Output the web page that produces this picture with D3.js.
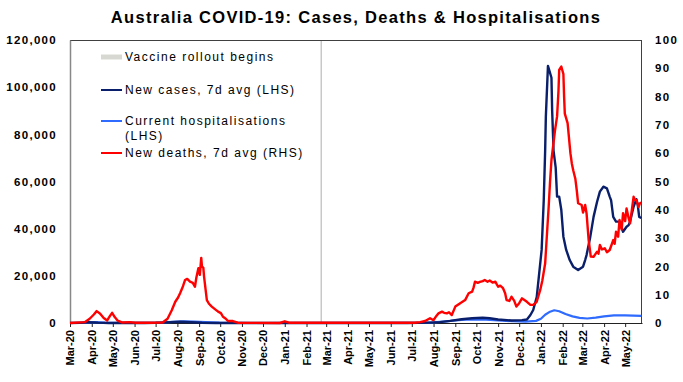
<!DOCTYPE html>
<html>
<head>
<meta charset="utf-8">
<script src="https://cdn.jsdelivr.net/npm/d3@7"></script>
<style>
  html, body { margin: 0; padding: 0; background: #fff; }
  svg { display: block; }
</style>
</head>
<body>
<svg id="chart" width="683" height="382"></svg>
<script>
// ---------------- DATA ----------------
const titleText = "Australia COVID-19: Cases, Deaths & Hospitalisations";
const legendLabels = ["Vaccine rollout begins", "New cases, 7d avg (LHS)", ["Current hospitalisations", "(LHS)"], "New deaths, 7d avg (RHS)"];
const leftTicks = [0, 20000, 40000, 60000, 80000, 100000, 120000];
const rightTicks = [0, 10, 20, 30, 40, 50, 60, 70, 80, 90, 100];
const xStart = "2020-03-01";
const xEnd = "2022-05-25";
const vaccineDate = "2021-02-22";

// New cases, 7d avg (LHS)
const casesData = [
  ["2020-03-01", 5], ["2020-03-15", 60], ["2020-03-28", 380], ["2020-04-10", 150], ["2020-04-25", 20],
  ["2020-05-15", 15], ["2020-06-15", 20], ["2020-07-01", 80], ["2020-07-15", 250], ["2020-08-05", 520],
  ["2020-08-20", 300], ["2020-09-05", 100], ["2020-09-25", 20], ["2020-10-15", 10], ["2020-11-15", 5],
  ["2020-12-25", 15], ["2021-01-10", 20], ["2021-02-01", 5], ["2021-06-01", 10], ["2021-06-25", 20],
  ["2021-07-10", 60], ["2021-07-25", 150], ["2021-08-10", 350], ["2021-08-25", 900], ["2021-09-10", 1600],
  ["2021-09-25", 2000], ["2021-10-10", 2200], ["2021-10-20", 2000], ["2021-11-01", 1500], ["2021-11-20", 1050],
  ["2021-12-05", 1200], ["2021-12-12", 1500], ["2021-12-17", 3400], ["2021-12-21", 5500], ["2021-12-26", 11000],
  ["2021-12-29", 19600], ["2022-01-02", 31000], ["2022-01-05", 52000], ["2022-01-07", 73000], ["2022-01-08", 87500],
  ["2022-01-11", 109000], ["2022-01-13", 107000], ["2022-01-16", 104000], ["2022-01-17", 90000], ["2022-01-19", 73000],
  ["2022-01-22", 66000], ["2022-01-24", 53600], ["2022-01-27", 53600], ["2022-01-30", 48000], ["2022-02-02", 36600],
  ["2022-02-06", 31000], ["2022-02-11", 26700], ["2022-02-16", 23900], ["2022-02-23", 22500], ["2022-03-02", 23900],
  ["2022-03-05", 26700], ["2022-03-07", 28800], ["2022-03-12", 36000], ["2022-03-17", 45000], ["2022-03-22", 51400],
  ["2022-03-26", 55700], ["2022-03-31", 57800], ["2022-04-05", 57100], ["2022-04-09", 53600], ["2022-04-11", 52000],
  ["2022-04-14", 45000], ["2022-04-18", 43000], ["2022-04-23", 43000], ["2022-04-28", 38700], ["2022-05-03", 40800],
  ["2022-05-06", 41500], ["2022-05-08", 43000], ["2022-05-13", 49300], ["2022-05-17", 52500], ["2022-05-19", 50000],
  ["2022-05-21", 45000], ["2022-05-24", 44500]
];

// Current hospitalisations (LHS)
const hospData = [
  ["2020-03-01", 0], ["2020-03-25", 200], ["2020-04-05", 350], ["2020-04-20", 150], ["2020-05-15", 40],
  ["2020-06-15", 20], ["2020-07-10", 150], ["2020-07-25", 450], ["2020-08-10", 650], ["2020-08-25", 600],
  ["2020-09-10", 350], ["2020-09-30", 120], ["2020-10-20", 30], ["2020-11-15", 10], ["2021-06-15", 20],
  ["2021-07-15", 80], ["2021-08-01", 250], ["2021-08-15", 600], ["2021-09-01", 1100], ["2021-09-15", 1450],
  ["2021-10-01", 1550], ["2021-10-15", 1450], ["2021-11-01", 1100], ["2021-11-20", 800], ["2021-12-10", 600],
  ["2021-12-25", 900], ["2022-01-01", 1800], ["2022-01-07", 3500], ["2022-01-14", 4800], ["2022-01-20", 5400],
  ["2022-01-27", 5000], ["2022-02-05", 3800], ["2022-02-15", 2800], ["2022-02-25", 2200], ["2022-03-08", 1900],
  ["2022-03-20", 2300], ["2022-04-01", 2800], ["2022-04-15", 3200], ["2022-05-01", 3200], ["2022-05-24", 3000]
];

// New deaths, 7d avg (RHS)
const deathsData = [
  ["2020-03-01", 0], ["2020-03-22", 0.3], ["2020-03-29", 1.5], ["2020-04-04", 3], ["2020-04-08", 4.2],
  ["2020-04-13", 3.3], ["2020-04-18", 1.8], ["2020-04-23", 0.9], ["2020-04-27", 2.5], ["2020-04-30", 3.6],
  ["2020-05-04", 2], ["2020-05-08", 0.8], ["2020-05-14", 0.2], ["2020-05-25", 0.3], ["2020-06-02", 0.1],
  ["2020-06-23", 0.1], ["2020-07-11", 0.2], ["2020-07-18", 1.5], ["2020-07-24", 4.5], ["2020-07-29", 7.5],
  ["2020-08-02", 9], ["2020-08-05", 10.6], ["2020-08-09", 13], ["2020-08-12", 15.2], ["2020-08-15", 15.6],
  ["2020-08-19", 14.6], ["2020-08-23", 14.2], ["2020-08-26", 12.8], ["2020-08-28", 16], ["2020-08-31", 19.4],
  ["2020-09-02", 17], ["2020-09-04", 23], ["2020-09-05", 20], ["2020-09-07", 19.5], ["2020-09-08", 16.4],
  ["2020-09-12", 8.1], ["2020-09-15", 6.8], ["2020-09-19", 5.8], ["2020-09-23", 5], ["2020-09-28", 4],
  ["2020-10-02", 3.5], ["2020-10-05", 2.2], ["2020-10-09", 1.5], ["2020-10-12", 0.7], ["2020-10-19", 0.7],
  ["2020-10-26", 0.1], ["2020-12-25", 0], ["2021-01-01", 0.6], ["2021-01-07", 0.1], ["2021-07-05", 0.1],
  ["2021-07-13", 0.3], ["2021-07-20", 0.7], ["2021-07-27", 1.7], ["2021-08-01", 1], ["2021-08-05", 2.5],
  ["2021-08-08", 3.4], ["2021-08-13", 4], ["2021-08-16", 3.6], ["2021-08-20", 3.4], ["2021-08-23", 3.8],
  ["2021-08-27", 2.8], ["2021-09-01", 5.8], ["2021-09-08", 7], ["2021-09-15", 8.1], ["2021-09-20", 10.5],
  ["2021-09-25", 11.1], ["2021-09-27", 12.5], ["2021-09-29", 14.6], ["2021-10-03", 14.2], ["2021-10-06", 14.5],
  ["2021-10-10", 14.8], ["2021-10-13", 15.2], ["2021-10-17", 14.6], ["2021-10-20", 15], ["2021-10-24", 14.3],
  ["2021-10-28", 14.6], ["2021-11-01", 12.8], ["2021-11-04", 13.2], ["2021-11-08", 12.3], ["2021-11-11", 10.5],
  ["2021-11-13", 8.1], ["2021-11-17", 7.8], ["2021-11-20", 9.3], ["2021-11-24", 7.8], ["2021-11-27", 5.8],
  ["2021-12-01", 7], ["2021-12-05", 8.7], ["2021-12-08", 8.2], ["2021-12-12", 7.5], ["2021-12-17", 6.4],
  ["2021-12-21", 6.4], ["2021-12-26", 7.5], ["2021-12-31", 11.7], ["2022-01-03", 15], ["2022-01-07", 21],
  ["2022-01-12", 41], ["2022-01-14", 50], ["2022-01-16", 57.6], ["2022-01-21", 68], ["2022-01-24", 73],
  ["2022-01-26", 82], ["2022-01-27", 89.4], ["2022-01-30", 90.6], ["2022-02-02", 88], ["2022-02-03", 80],
  ["2022-02-04", 74], ["2022-02-08", 70.6], ["2022-02-12", 60], ["2022-02-14", 56.4], ["2022-02-16", 54],
  ["2022-02-19", 51], ["2022-02-21", 47], ["2022-02-23", 42.3], ["2022-02-28", 41.7], ["2022-03-02", 39],
  ["2022-03-05", 41.7], ["2022-03-07", 38.8], ["2022-03-10", 29.3], ["2022-03-13", 23.5], ["2022-03-17", 23.4],
  ["2022-03-22", 25.2], ["2022-03-24", 24.5], ["2022-03-26", 27.6], ["2022-03-29", 26], ["2022-04-02", 26.4],
  ["2022-04-05", 25], ["2022-04-09", 25.8], ["2022-04-14", 29.3], ["2022-04-16", 28], ["2022-04-18", 32.3],
  ["2022-04-21", 30.5], ["2022-04-23", 36.4], ["2022-04-26", 33], ["2022-04-28", 38.8], ["2022-05-01", 36],
  ["2022-05-03", 40.5], ["2022-05-06", 37], ["2022-05-08", 35.2], ["2022-05-13", 44.6], ["2022-05-15", 43.5],
  ["2022-05-17", 43.5], ["2022-05-20", 41], ["2022-05-22", 42.3], ["2022-05-24", 42.5]
];

// ---------------- CHART ----------------
const parse = d3.utcParse("%Y-%m-%d");
const svg = d3.select("#chart");
const L = 70, R = 642, T = 40, B = 323;

const x = d3.scaleUtc().domain([parse(xStart), parse(xEnd)]).range([L, R]);
const yL = d3.scaleLinear().domain([0, 120000]).range([B, T]);
const yR = d3.scaleLinear().domain([0, 100]).range([B, T]);

const axisFont = "'Liberation Sans', Arial, sans-serif";

// title
svg.append("text")
  .attr("x", 356).attr("y", 23)
  .attr("text-anchor", "middle")
  .attr("font-family", axisFont).attr("font-weight", "bold")
  .attr("font-size", 16.5).attr("letter-spacing", 1.3)
  .attr("fill", "#000")
  .text(titleText);

// vaccine line
svg.append("line")
  .attr("x1", x(parse(vaccineDate))).attr("x2", x(parse(vaccineDate)))
  .attr("y1", T).attr("y2", B)
  .attr("stroke", "#c8c8c8").attr("stroke-width", 1.5);

// frame: top and right
svg.append("line").attr("x1", L).attr("x2", R).attr("y1", T + 0.5).attr("y2", T + 0.5)
  .attr("stroke", "#404040").attr("stroke-width", 1);
svg.append("line").attr("x1", R - 0.5).attr("x2", R - 0.5).attr("y1", T).attr("y2", B)
  .attr("stroke", "#404040").attr("stroke-width", 1);

// left axis
const gL = svg.append("g").attr("transform", `translate(${L},0)`)
  .call(d3.axisLeft(yL).tickValues(leftTicks).tickSize(0).tickPadding(13).tickFormat(d3.format(",")));
gL.select(".domain").attr("stroke", "#888").attr("stroke-width", 1.5);
gL.selectAll("text").attr("font-family", axisFont).attr("font-weight", "bold")
  .attr("font-size", 11.5).attr("letter-spacing", 1.3).attr("fill", "#000");

// right axis
const gR = svg.append("g").attr("transform", `translate(${R},0)`)
  .call(d3.axisRight(yR).tickValues(rightTicks).tickSize(0).tickPadding(13));
gR.select(".domain").remove();
gR.selectAll("text").attr("font-family", axisFont).attr("font-weight", "bold")
  .attr("font-size", 11.5).attr("letter-spacing", 1.3).attr("fill", "#000");

// bottom axis
const months = d3.utcMonth.range(parse("2020-03-01"), parse("2022-05-02"));
const gB = svg.append("g").attr("transform", `translate(0,${B})`)
  .call(d3.axisBottom(x).tickValues(months).tickSize(4).tickSizeOuter(0).tickFormat(d3.utcFormat("%b-%y")));
gB.select(".domain").attr("stroke", "#222").attr("stroke-width", 1);
gB.selectAll(".tick line").attr("stroke", "#222");
gB.selectAll("text")
  .attr("font-family", axisFont).attr("font-weight", "bold").attr("font-size", 11)
  .attr("fill", "#000")
  .attr("text-anchor", "end")
  .attr("transform", "rotate(-90)")
  .attr("x", -7).attr("y", 0).attr("dy", "0.36em");

// lines
const mk = (yScale) => d3.line().x(d => x(parse(d[0]))).y(d => yScale(d[1]));
const plot = svg.append("g");
plot.append("path").datum(hospData).attr("d", mk(yL))
  .attr("fill", "none").attr("stroke", "#2f6bff").attr("stroke-width", 2.2).attr("stroke-linejoin", "round");
plot.append("path").datum(casesData).attr("d", mk(yL))
  .attr("fill", "none").attr("stroke", "#0a1f6b").attr("stroke-width", 2.4).attr("stroke-linejoin", "round");
plot.append("path").datum(deathsData).attr("d", mk(yR))
  .attr("fill", "none").attr("stroke", "#ff0000").attr("stroke-width", 2.4).attr("stroke-linejoin", "round");

// legend
const legendFont = "'Liberation Sans', Arial, sans-serif";
const leg = svg.append("g");
const legItems = [
  { y: 57, color: "#d8d8d2", w: 5, label: legendLabels[0] },
  { y: 90, color: "#0a1f6b", w: 2, label: legendLabels[1] },
  { y: 121, color: "#2f6bff", w: 2, label: legendLabels[2] },
  { y: 153, color: "#ff0000", w: 2, label: legendLabels[3] }
];
legItems.forEach(it => {
  leg.append("line").attr("x1", 101).attr("x2", 122).attr("y1", it.y).attr("y2", it.y)
    .attr("stroke", it.color).attr("stroke-width", it.w);
  const t = leg.append("text").attr("x", 125).attr("y", it.y).attr("dy", "0.35em")
    .attr("font-family", legendFont).attr("font-size", 12).attr("letter-spacing", 1.5).attr("fill", "#000");
  if (Array.isArray(it.label)) {
    it.label.forEach((s, i) => {
      t.append("tspan").attr("x", 125).attr("dy", i === 0 ? "0.35em" : "1.25em").text(s);
    });
  } else {
    t.text(it.label);
  }
});
</script>
</body>
</html>
